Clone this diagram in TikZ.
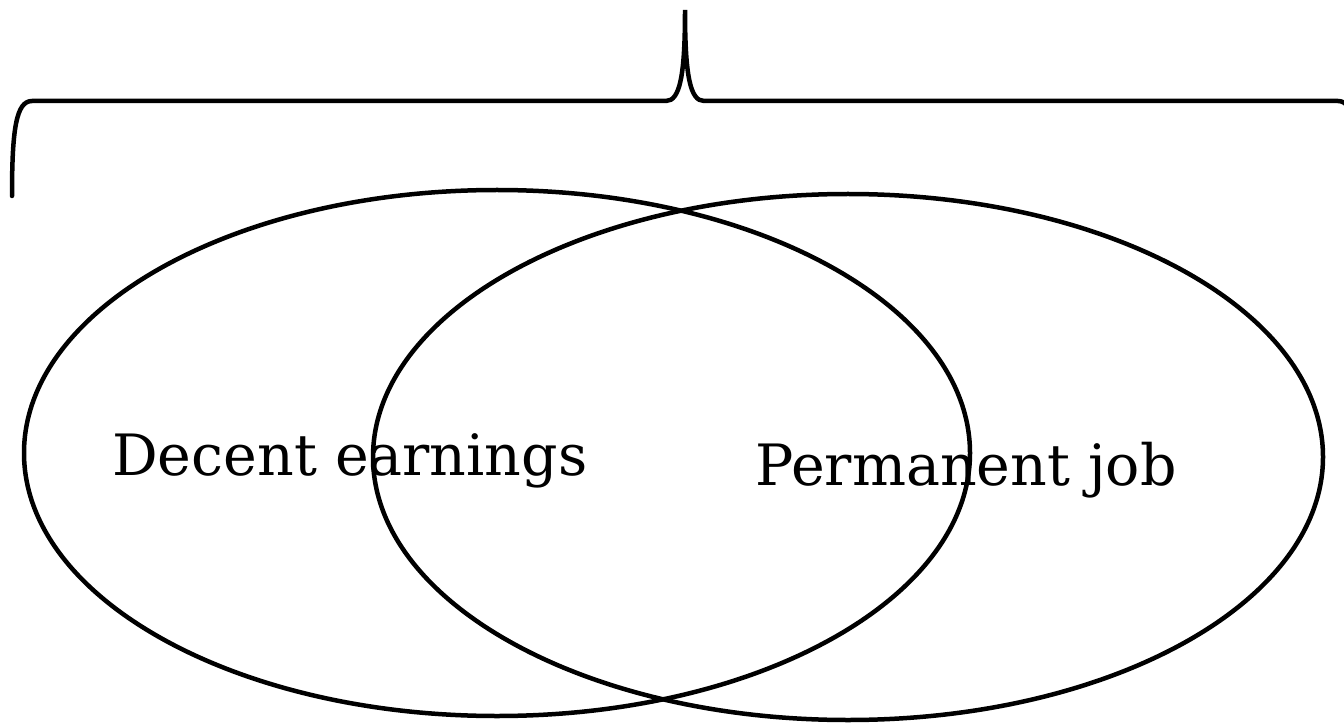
\documentclass[tikz,border=0pt]{standalone}
\usepackage{fontspec}
\setmainfont{DejaVu Serif}
\usetikzlibrary{shapes.geometric}
\begin{document}
\begin{tikzpicture}[x=1pt,y=-1pt,
  outline/.style={draw=black,line width=4.5pt},
  oval/.style={outline,ellipse,inner sep=0pt},
  label/.style={anchor=base west,inner sep=0pt,font=\fontsize{57}{62}\selectfont}]
\useasboundingbox (0,0) rectangle (1344,727);
\begin{scope}
\clip (0,0) rectangle (1344,727);
% brace
\coordinate (bl) at (12,196);
\coordinate (tip) at (685,10);
\coordinate (br) at (1358,196);
\draw[outline,line cap=round] (bl) .. controls (12,130) and (16,101) .. (32,101)
  -- (666,101) .. controls (680,101) and (685,75) .. (tip)
  .. controls (685,75) and (690,101) .. (704,101)
  -- (1338,101) .. controls (1354,101) and (1358,130) .. (br);
\end{scope}
% ellipses
\node[oval,minimum width=946pt,minimum height=526pt] (earn) at (497,453) {};
\node[oval,minimum width=950pt,minimum height=526pt] (perm) at (848,457) {};
\node[label] (t1) at (112,475) {Decent earnings};
\node[label] (t2) at (755,485) {Permanent job};
\end{tikzpicture}
\end{document}
